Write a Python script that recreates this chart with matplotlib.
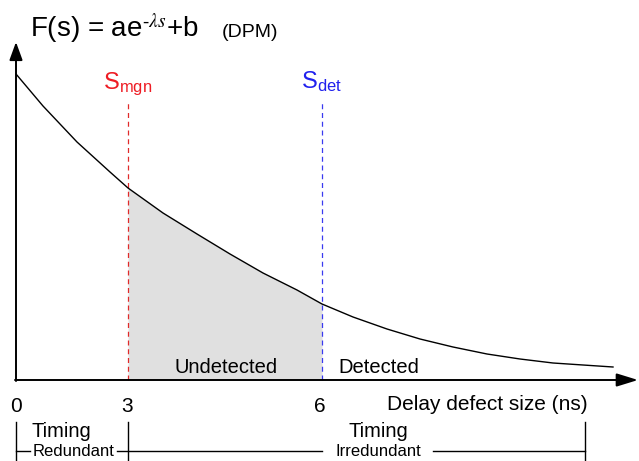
import matplotlib
matplotlib.use("Agg")
import matplotlib.pyplot as plt

plt.rcParams['font.family'] = ['Liberation Sans', 'DejaVu Sans']
plt.rcParams['mathtext.fontset'] = 'stix'

# schematic coordinates: x along the defect-size axis, F = height above it
curve_x = [16, 43, 77, 110, 128, 163, 197, 230, 263, 297, 322, 353, 387, 420,
           453, 487, 520, 553, 613]
curve_f = [306, 274, 238, 208, 192, 167, 146, 126, 107, 90, 76, 63, 51, 41,
           33, 26, 21, 17, 13]

tick_pos = [16, 127, 320]
tick_labels = ["0", "3", "6"]
s_mgn = 128
s_det = 322
range_end = 585
# bracket line pieces (gaps where the Redundant / Irredundant labels sit)
bracket_segs = [(16, 30), (117, 322), (433, 585)]

fig = plt.figure(figsize=(6.39, 4.61), dpi=100)
ax = fig.add_axes([0, 0, 1, 1])
ax.set_xlim(0, 639)
ax.set_ylim(-81, 380)
ax.axis("off")

# shaded "undetected" region between the two thresholds
xs = [x for x in curve_x if s_mgn <= x <= s_det]
fs = [f for x, f in zip(curve_x, curve_f) if s_mgn <= x <= s_det]
ax.fill_between(xs, 0, fs, color="#e0e0e0", lw=0, zorder=1)

ax.plot(curve_x, curve_f, color="black", lw=1.0, zorder=3,
        solid_joinstyle="round")

# axes arrows
ax.annotate("", xy=(638, 0), xytext=(15, 0),
            arrowprops=dict(arrowstyle="-|>,head_length=1.3,head_width=0.4",
                            color="black", lw=1.4, shrinkA=0, shrinkB=0))
ax.annotate("", xy=(16, 338), xytext=(16, -1),
            arrowprops=dict(arrowstyle="-|>,head_length=1.1,head_width=0.4",
                            color="black", lw=1.4, shrinkA=0, shrinkB=0))

# margin / detection thresholds
ax.plot([s_mgn, s_mgn], [0, 279], color="#e02a2a", lw=0.9, ls=(0, (4, 3)), zorder=2)
ax.plot([s_det, s_det], [0, 279], color="#3a3af0", lw=0.9, ls=(0, (4, 3)), zorder=2)
ax.text(s_mgn, 291, r"S$_{\mathregular{mgn}}$", color="#ee1c24", fontsize=17,
        ha="center", va="baseline")
ax.text(s_det, 291, r"S$_{\mathregular{det}}$", color="#2020ee", fontsize=17,
        ha="center", va="baseline")

ax.text(30, 343, "F(s) = ae$^{\u2010\\lambda s}$+b", fontsize=20,
        ha="left", va="baseline")
ax.text(222, 343, "(DPM)", fontsize=14, ha="left", va="baseline")

ax.text(226, 7, "Undetected", fontsize=14.5, ha="center", va="baseline", zorder=4)
ax.text(379, 7, "Detected", fontsize=14.5, ha="center", va="baseline", zorder=4)

for p, lab in zip(tick_pos, tick_labels):
    ax.text(p, -32, lab, fontsize=15, ha="center", va="baseline")
ax.text(588, -30, "Delay defect size (ns)", fontsize=15, ha="right", va="baseline")

# timing redundancy brackets
for p in [tick_pos[0], s_mgn, range_end]:
    ax.plot([p, p], [-42, -81], color="black", lw=1)
for x0, x1 in bracket_segs:
    ax.plot([x0, x1], [-71, -71], color="black", lw=1)
ax.text(61, -57, "Timing", fontsize=14.5, ha="center", va="baseline")
ax.text(378, -57, "Timing", fontsize=14.5, ha="center", va="baseline")
ax.text(73.5, -76, "Redundant", fontsize=12, ha="center", va="baseline")
ax.text(378, -76, "Irredundant", fontsize=12, ha="center", va="baseline")

fig.savefig("out.png", dpi=100)
